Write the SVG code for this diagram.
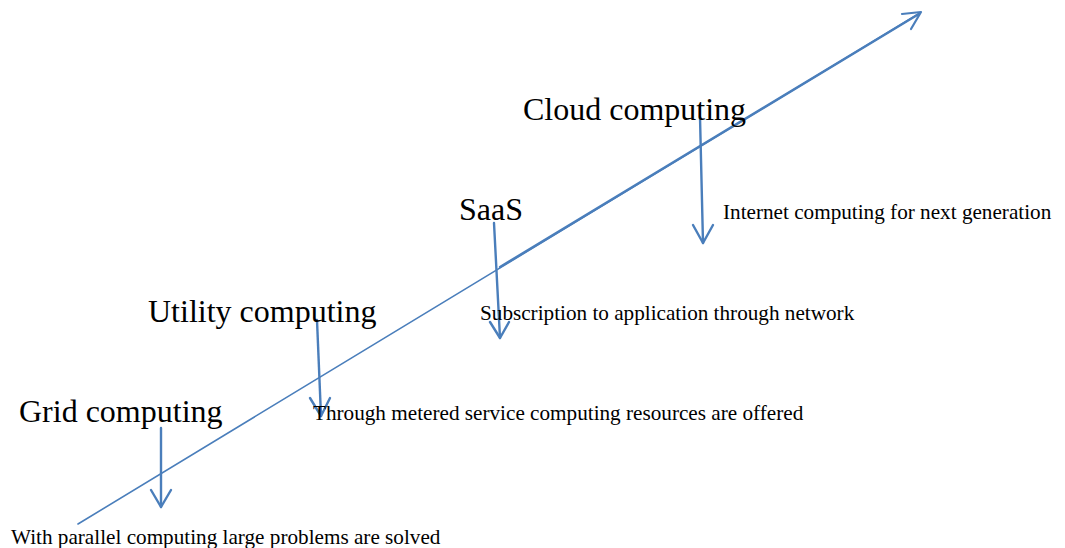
<svg xmlns="http://www.w3.org/2000/svg" width="1065" height="548" viewBox="0 0 1065 548">
  <style>
    .ln { fill: none; stroke: #4a7ebb; stroke-linecap: round; stroke-linejoin: round; }
    .title { font-family: "Liberation Serif", "Times New Roman", serif; font-size: 32px; fill: #000; }
    .note { font-family: "Liberation Serif", "Times New Roman", serif; font-size: 21.2px; fill: #000; }
  </style>
  <rect width="1065" height="548" fill="#fff"/>

  <!-- timeline axis -->
  <g id="connectors">
    <line class="ln" x1="78" y1="524" x2="920" y2="13" stroke-width="1.6"/>
    <line class="ln" x1="500" y1="267" x2="918" y2="14.5" stroke-width="2.4"/>
    <polyline class="ln" points="902,14 921,12 911,29" stroke-width="2.2"/>

    <!-- drop arrows to descriptions -->
    <line class="ln" x1="161" y1="428" x2="161" y2="507" stroke-width="2.4"/>
    <polyline class="ln" points="151,490 161,507 171,490" stroke-width="2.4"/>

    <line class="ln" x1="317" y1="320" x2="321" y2="416" stroke-width="2.4"/>
    <polyline class="ln" points="310,398 321,416 330,398" stroke-width="2.4"/>

    <line class="ln" x1="494" y1="223" x2="500" y2="338" stroke-width="2.4"/>
    <polyline class="ln" points="490,322 500,338 509,322" stroke-width="2.4"/>

    <line class="ln" x1="700" y1="117" x2="703" y2="243" stroke-width="2.4"/>
    <polyline class="ln" points="693,225 703,243 713,225" stroke-width="2.4"/>
  </g>

  <g id="grid">
    <text class="title" x="19" y="422">Grid computing</text>
    <text class="note" x="11" y="544">With parallel computing large problems are solved</text>
  </g>

  <g id="utility">
    <text class="title" x="148" y="322">Utility computing</text>
    <text class="note" x="313" y="420">Through metered service computing resources are offered</text>
  </g>

  <g id="saas">
    <text class="title" x="459" y="220">SaaS</text>
    <text class="note" x="480" y="320">Subscription to application through network</text>
  </g>

  <g id="cloud">
    <text class="title" x="523" y="120">Cloud computing</text>
    <text class="note" x="723" y="219">Internet computing for next generation</text>
  </g>
</svg>
